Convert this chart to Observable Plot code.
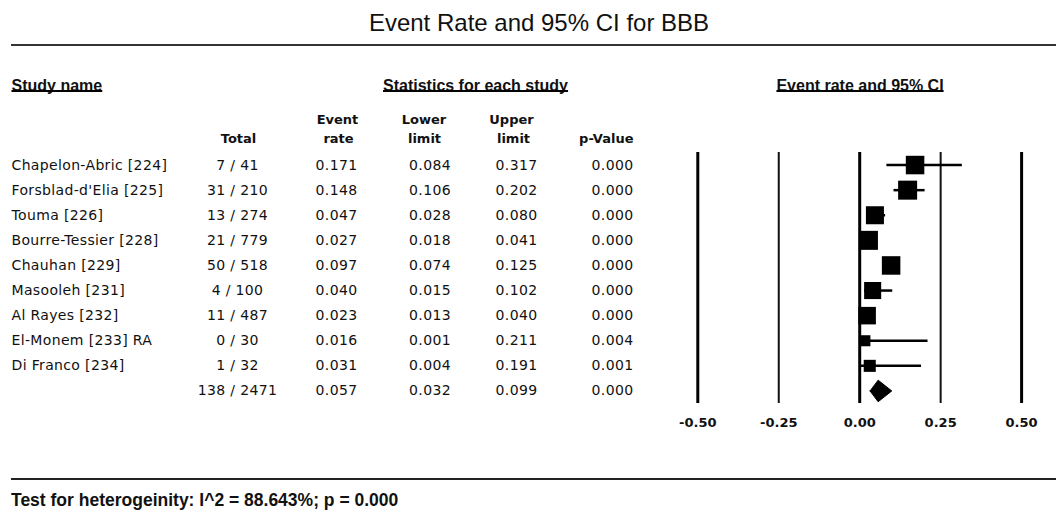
<!DOCTYPE html>
<html>
<head>
<meta charset="utf-8">
<script src="https://cdn.jsdelivr.net/npm/d3@7"></script>
<script src="https://cdn.jsdelivr.net/npm/@observablehq/plot@0.6"></script>
<style>
  html, body { margin: 0; padding: 0; background: #fff; }
  body { width: 1056px; height: 510px; overflow: hidden; font-family: "Liberation Sans", Arial, sans-serif; color: #111; }
  #title { margin-left: 11px; height: 35px; padding-top: 9px; padding-left: 11px; line-height: 28px; font-size: 24px; text-align: center; border-bottom: 2px solid #333; box-sizing: content-box; }
  #foot { margin-left: 11px; border-top: 2px solid #222; padding-top: 10px; line-height: 20px; font-size: 17.5px; font-weight: bold; }
  svg { display: block; }
  g.body text { letter-spacing: 0.35px; }
</style>
</head>
<body>
<div id="title">Event Rate and 95% CI for BBB</div>
<div id="chart"></div>
<div id="foot">Test for heterogeinity: I^2 = 88.643%; p = 0.000</div>
<script>
// ---- data ----
const studies = ["Chapelon-Abric [224]", "Forsblad-d'Elia [225]", "Touma [226]", "Bourre-Tessier [228]", "Chauhan [229]", "Masooleh [231]", "Al Rayes [232]", "El-Monem [233] RA", "Di Franco [234]"];
const events = [7, 31, 13, 21, 50, 4, 11, 0, 1];
const totals = [41, 210, 274, 779, 518, 100, 487, 30, 32];
const eventRate = [0.171, 0.148, 0.047, 0.027, 0.097, 0.040, 0.023, 0.016, 0.031];
const lowerLimit = [0.084, 0.106, 0.028, 0.018, 0.074, 0.015, 0.013, 0.001, 0.004];
const upperLimit = [0.317, 0.202, 0.080, 0.041, 0.125, 0.102, 0.040, 0.211, 0.191];
const pValue = [0.000, 0.000, 0.000, 0.000, 0.000, 0.000, 0.000, 0.004, 0.001];
const weights = [13.2, 13.9, 12.5, 13.9, 13.2, 11.2, 11.8, 4.7, 5.6];
const summaryEvents = 138, summaryTotal = 2471;
const summaryRate = 0.057, summaryLower = 0.032, summaryUpper = 0.099, summaryP = 0.000;
const axisTicks = [-0.50, -0.25, 0.00, 0.25, 0.50];
const majorTicks = [-0.50, 0.00, 0.50];
const minorTicks = [-0.25, 0.25];

// ---- tables ----
const f3 = d => d.toFixed(3);
const studyRows = studies.map((s, i) => ({
  i, name: s, total: `${events[i]} / ${totals[i]}`,
  rate: eventRate[i], lo: lowerLimit[i], hi: upperLimit[i], p: pValue[i], w: weights[i]
}));
const summaryIndex = studies.length;
const allRows = [...studyRows, {
  i: summaryIndex, name: "", total: `${summaryEvents} / ${summaryTotal}`,
  rate: summaryRate, lo: summaryLower, hi: summaryUpper, p: summaryP
}];
const dh = 0.43;
const diamond = [
  {x: summaryLower, y: summaryIndex},
  {x: summaryRate, y: summaryIndex - dh},
  {x: summaryUpper, y: summaryIndex},
  {x: summaryRate, y: summaryIndex + dh},
  {x: summaryLower, y: summaryIndex}
];

const bodyFont = {fontFamily: "DejaVu Sans", fontSize: 14, fill: "#111", className: "body"};
const headFont = {fontFamily: "DejaVu Sans", fontSize: 13, fontWeight: "bold", fill: "#111"};
const secFont = {fontFamily: "Liberation Sans", fontSize: 16, fontWeight: "bold", fill: "#111"};

function col(field, x, fmt, anchor = "middle") {
  return Plot.text(allRows, {y: "i", text: fmt ? d => fmt(d[field]) : field, frameAnchor: "left", dx: x, textAnchor: anchor, ...bodyFont});
}
function lbl(txt, x, dy, font, anchor = "middle", extra = {}) {
  return Plot.text([txt], {frameAnchor: "top-left", dx: x, dy, textAnchor: anchor, ...font, ...extra});
}

const chart = Plot.plot({
  width: 1056,
  height: 432,
  marginLeft: 0,
  marginRight: 0,
  marginTop: 106,
  marginBottom: 75,
  style: {background: "white", overflow: "visible"},
  x: {domain: [-0.5, 0.5], range: [697.3, 1021.1]},
  y: {domain: [-0.5, summaryIndex + 0.5], reverse: true, axis: null},
  r: {domain: [0, 13.9], range: [0, 10.72]},
  marks: [
    // section headers (underlined)
    lbl("Study name", 11, -73, secFont, "start", {className: "uhdr"}),
    lbl("Statistics for each study", 475, -73, secFont, "middle", {className: "uhdr"}),
    lbl("Event rate and 95% CI", 859.5, -73, secFont, "middle", {className: "uhdr"}),
    // column headers
    lbl("Event", 337, -38, headFont),
    lbl("Lower", 423.5, -38, headFont),
    lbl("Upper", 511, -38, headFont),
    lbl("Total", 238, -19, headFont),
    lbl("rate", 338, -19, headFont),
    lbl("limit", 424, -19, headFont),
    lbl("limit", 513, -19, headFont),
    lbl("p-Value", 633, -19, headFont, "end"),
    // table columns
    col("name", 11, null, "start"),
    col("total", 237),
    col("rate", 336, f3),
    col("lo", 429.5, f3),
    col("hi", 516, f3),
    col("p", 612, f3),
    // forest plot
    Plot.ruleX(minorTicks, {x: d => d, stroke: "#111", strokeWidth: 2}),
    Plot.ruleX(majorTicks, {x: d => d, stroke: "#000", strokeWidth: 3}),
    Plot.ruleY(studyRows, {y: "i", x1: "lo", x2: "hi", stroke: "#000", strokeWidth: 2.5}),
    Plot.dot(studyRows, {x: "rate", y: "i", r: "w", symbol: "square", fill: "#000", stroke: null}),
    Plot.line(diamond, {x: "x", y: "y", fill: "#000", stroke: "#000", strokeWidth: 1}),
    Plot.axisX({ticks: axisTicks, tickFormat: d => d.toFixed(2), tickSize: 0, tickPadding: 14, label: null,
      fontFamily: "DejaVu Sans", fontSize: 13, fontWeight: "bold", fill: "#111"})
  ]
});
document.getElementById("chart").append(chart);

// underline section headers, measured from their rendered text
const svgRect = chart.getBoundingClientRect();
chart.querySelectorAll("g.uhdr text").forEach(t => {
  const r = t.getBoundingClientRect();
  const line = document.createElementNS("http://www.w3.org/2000/svg", "line");
  line.setAttribute("x1", r.left - svgRect.left);
  line.setAttribute("x2", r.right - svgRect.left);
  line.setAttribute("y1", 45);
  line.setAttribute("y2", 45);
  line.setAttribute("stroke", "#000");
  line.setAttribute("stroke-width", 2);
  chart.append(line);
});
</script>
</body>
</html>
